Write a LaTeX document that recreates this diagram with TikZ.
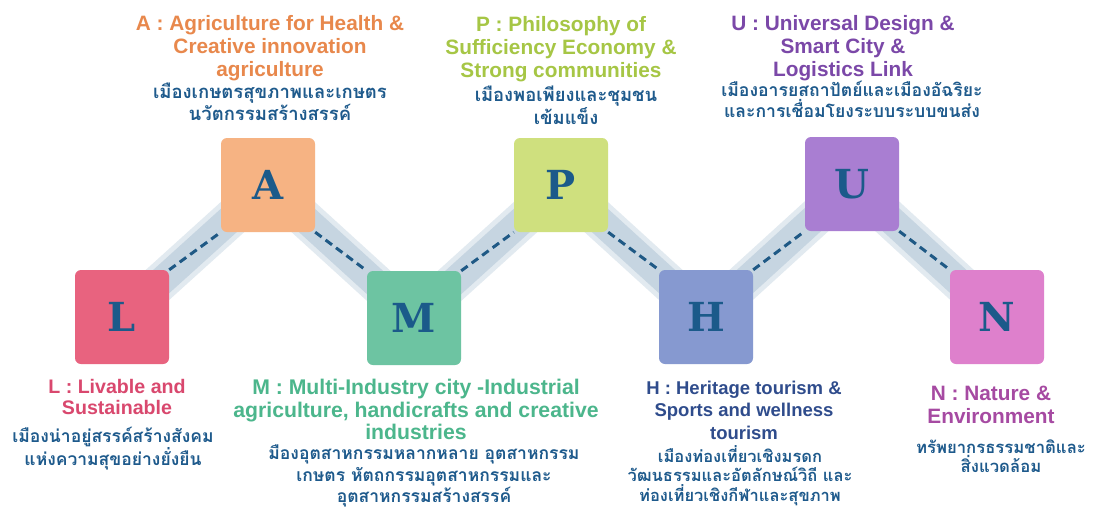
\documentclass[tikz,border=0pt]{standalone}
\usepackage{fontspec}
\setmainfont{Liberation Sans}
\newfontfamily\thaifont[Script=Thai]{Loma}
\newfontfamily\slabfont{DejaVu Serif}
\definecolor{cL}{HTML}{E8637F}
\definecolor{cA}{HTML}{F6B383}
\definecolor{cM}{HTML}{6DC4A2}
\definecolor{cP}{HTML}{CFE07E}
\definecolor{cH}{HTML}{8699D0}
\definecolor{cU}{HTML}{A97ED2}
\definecolor{cN}{HTML}{DE80CC}
\definecolor{tL}{HTML}{D9486E}
\definecolor{tA}{HTML}{E8884C}
\definecolor{tM}{HTML}{4CB68C}
\definecolor{tP}{HTML}{A6C645}
\definecolor{tH}{HTML}{2F4C8C}
\definecolor{tU}{HTML}{7B48A8}
\definecolor{tN}{HTML}{A64AA2}
\definecolor{thai}{HTML}{1E5A8C}
\definecolor{letter}{HTML}{1B5A8A}
\definecolor{bandc}{HTML}{C6D5E1}
\definecolor{bandsoft}{HTML}{E2EAF0}
\definecolor{dashc}{HTML}{1F5985}
\tikzset{
  box/.style={rounded corners=6pt, minimum size=94pt, inner sep=0pt, text=letter,
    font=\slabfont\bfseries\fontsize{40}{40}\selectfont},
  bandsoftline/.style={line width=38pt, bandsoft},
  bandline/.style={line width=28pt, bandc},
  dashline/.style={line width=3pt, dashc, dash pattern=on 8pt off 5pt},
  entext/.style 2 args={anchor=north, inner sep=0pt, align=center,
    font=\bfseries\fontsize{#1}{#2}\selectfont},
  thtext/.style 2 args={anchor=north, inner sep=0pt, align=center, text=thai,
    font=\thaifont\bfseries\fontsize{#1}{#2}\selectfont}
}
\begin{document}
\begin{tikzpicture}[x=1pt,y=-1pt]
\useasboundingbox[fill=white] (0,0) rectangle (1102,509);
% node positions
\coordinate (pL) at (122,317);
\coordinate (pA) at (268,185);
\coordinate (pM) at (414,318);
\coordinate (pP) at (561,185);
\coordinate (pH) at (706,317);
\coordinate (pU) at (852,184);
\coordinate (pN) at (997,317);
% bands
\foreach \a/\b in {pL/pA,pA/pM,pM/pP,pP/pH,pH/pU,pU/pN}{
  \draw[bandsoftline] (\a) -- (\b);
}
\foreach \a/\b in {pL/pA,pA/pM,pM/pP,pP/pH,pH/pU,pU/pN}{
  \draw[bandline] (\a) -- (\b);
}
% boxes (anchors)
\node[box] (L) at (pL) {};
\node[box] (A) at (pA) {};
\node[box] (M) at (pM) {};
\node[box] (P) at (pP) {};
\node[box] (H) at (pH) {};
\node[box] (U) at (pU) {};
\node[box] (N) at (pN) {};
% dashed links
\draw[dashline] (L.north east) -- (A.south west);
\draw[dashline] (A.south east) -- (M.north west);
\draw[dashline] (M.north east) -- (P.south west);
\draw[dashline] (P.south east) -- (H.north west);
\draw[dashline] (H.north east) -- (U.south west);
\draw[dashline] (U.south east) -- (N.north west);
% visible boxes
\node[box, fill=cL] (L) at (pL) {L};
\node[box, fill=cA] (A) at (pA) {A};
\node[box, fill=cM] (M) at (pM) {M};
\node[box, fill=cP] (P) at (pP) {P};
\node[box, fill=cH] (H) at (pH) {H};
\node[box, fill=cU] (U) at (pU) {U};
\node[box, fill=cN] (N) at (pN) {N};
% texts
\node[entext={20.8}{23}, text=tA] (eA) at (270,15) {A : Agriculture for Health \&\\Creative innovation\\agriculture};
\node[thtext={18.5}{20.5}] (hA) at (270,83) {เมืองเกษตรสุขภาพและเกษตร\\นวัตกรรมสร้างสรรค์};
\node[entext={20.8}{23}, text=tP] (eP) at (561,16) {P : Philosophy of\\Sufficiency Economy \&\\Strong communities};
\node[thtext={18.4}{20.5}] (hP) at (566,86) {เมืองพอเพียงและชุมชน\\เข้มแข็ง};
\node[entext={20.8}{23}, text=tU] (eU) at (843,15) {U : Universal Design \&\\Smart City \&\\Logistics Link};
\node[thtext={17.6}{20.5}] (hU) at (852,81) {เมืองอารยสถาปัตย์และเมืองอัฉริยะ\\และการเชื่อมโยงระบบระบบขนส่ง};
\node[entext={19.6}{21.5}, text=tL] (eL) at (117,379) {L : Livable and\\Sustainable};
\node[thtext={17.5}{21}] (hL) at (113,427) {เมืองน่าอยู่สรรค์สร้างสังคม\\แห่งความสุขอย่างยั่งยืน};
\node[entext={21.2}{22.5}, text=tM] (eM) at (416,379) {M : Multi-Industry city -Industrial\\agriculture, handicrafts and creative\\industries};
\node[thtext={17.5}{21.3}] (hM) at (424,445) {มืองอุตสาหกรรมหลากหลาย อุตสาหกรรม\\เกษตร หัตถกรรมอุตสาหกรรมและ\\อุตสาหกรรมสร้างสรรค์};
\node[entext={18.5}{22.2}, text=tH] (eH) at (744,381) {H : Heritage tourism \&\\Sports and wellness\\tourism};
\node[thtext={16.5}{19.6}] (hH) at (740,445) {เมืองท่องเที่ยวเชิงมรดก\\วัฒนธรรมและอัตลักษณ์วิถี และ\\ท่องเที่ยวเชิงกีฬาและสุขภาพ};
\node[entext={20.8}{22.5}, text=tN] (eN) at (991,386) {N : Nature \&\\Environment};
\node[thtext={16.7}{18.5}] (hN) at (1001,440) {ทรัพยากรธรรมชาติและ\\สิ่งแวดล้อม};
\end{tikzpicture}
\end{document}
